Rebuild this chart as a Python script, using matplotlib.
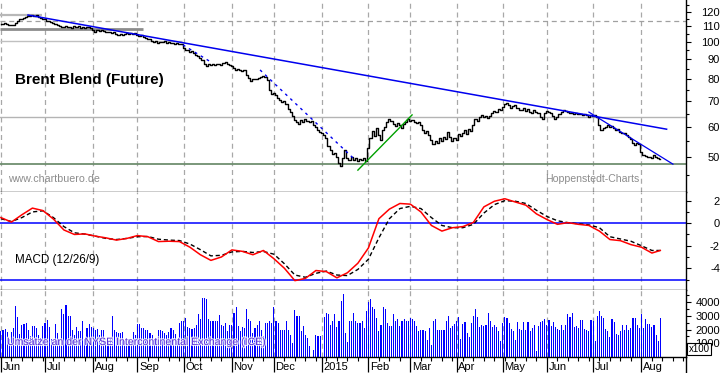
import numpy as np
import pandas as pd
import matplotlib
matplotlib.use('Agg')
import matplotlib.pyplot as plt
import matplotlib.patheffects as pe
from matplotlib.lines import Line2D
from matplotlib.transforms import blended_transform_factory
from matplotlib.ticker import NullFormatter

plt.rcParams['font.family'] = ['Liberation Sans', 'DejaVu Sans']

# trading days on the chart (one bar per business day)
days = pd.bdate_range('2014-06-02', '2015-08-14')

# daily closes (USD)
close = [
    # Jun 2014
    111.4, 111.6, 111.9, 111.4, 110.8, 111.0, 110.8, 112.3, 113.2, 114.6, 115.0,
    115.3, 116.0, 116.7, 117.1, 117.6, 117.1, 117.4, 116.4, 115.5, 115.0,
    # Jul
    114.6, 113.6, 113.2, 112.6, 111.9, 111.4, 110.8, 110.3, 109.6, 109.2, 110.1,
    109.2, 109.6, 108.8, 110.1, 109.4, 109.9, 108.8, 109.6, 109.0, 109.2, 109.6, 109.0,
    # Aug
    107.1, 106.4, 107.1, 106.7, 107.5, 106.9, 106.4, 106.0, 106.2, 105.4, 105.8,
    104.9, 104.5, 105.1, 104.5, 104.9, 105.4, 104.7, 105.4, 104.9, 105.4,
    # Sep
    104.3, 103.7, 104.1, 102.9, 102.4, 102.0, 101.6, 100.4, 99.8, 100.4, 99.6,
    100.2, 99.8, 100.4, 99.6, 100.0, 99.2, 99.6, 98.8, 99.2, 98.6, 99.0,
    # Oct
    96.4, 95.3, 95.0, 94.2, 94.7, 93.3, 92.4, 91.9, 90.8, 89.7, 87.5, 86.5,
    87.5, 87.3, 87.5, 87.0, 87.8, 87.5, 87.3, 88.1, 88.4, 87.5, 87.0,
    # Nov
    86.5, 85.5, 84.5, 85.0, 84.5, 84.0, 84.5, 81.9, 80.5, 79.0, 80.0, 80.2,
    80.0, 80.5, 81.0, 81.4, 81.0, 79.5, 74.9, 73.1,
    # Dec
    73.5, 72.6, 71.4, 70.5, 69.7, 70.1, 68.8, 66.8, 65.6, 64.0, 62.5, 61.8,
    61.0, 62.5, 61.8, 62.9, 62.1, 61.8, 62.1, 60.6, 59.9, 58.8, 58.1,
    # Jan 2015
    57.8, 57.1, 56.1, 53.4, 52.1, 50.9, 51.2, 50.0, 48.2, 47.4, 49.7, 52.1,
    49.7, 49.1, 50.0, 49.1, 49.7, 48.8, 49.4, 49.1, 49.7, 48.8,
    # Feb
    52.8, 56.1, 58.5, 56.8, 59.6, 57.1, 55.4, 58.8, 59.9, 61.8, 62.9, 62.1,
    61.0, 60.3, 61.4, 60.6, 59.6, 61.0, 61.8, 62.9,
    # Mar
    62.1, 62.5, 61.8, 61.4, 61.8, 60.6, 58.8, 57.8, 58.5, 57.1, 55.4, 54.1,
    55.1, 54.4, 56.1, 55.1, 56.5, 55.8, 58.1, 56.5, 55.1, 56.1,
    # Apr
    55.4, 57.4, 56.8, 57.8, 58.8, 57.4, 59.2, 58.5, 60.6, 62.9, 62.1, 63.6,
    64.4, 63.6, 64.0, 63.3, 64.0, 65.2, 66.0, 65.6, 66.8, 66.4,
    # May
    67.6, 68.8, 69.3, 68.4, 67.2, 68.0, 68.4, 67.2, 66.4, 66.4, 67.2, 66.0,
    66.8, 65.6, 65.2, 66.4, 65.6, 65.2, 63.6, 62.9, 65.2,
    # Jun
    66.0, 65.6, 65.2, 64.0, 62.9, 63.6, 64.8, 65.6, 66.4, 66.0, 65.6, 65.2,
    65.2, 64.8, 65.2, 64.8, 64.8, 64.4, 64.8, 64.4, 63.6, 64.4,
    # Jul
    64.0, 64.4, 63.6, 60.6, 58.8, 59.6, 59.9, 60.6, 59.9, 60.3, 59.6, 58.8,
    59.2, 58.1, 57.8, 57.8, 57.1, 56.5, 55.8, 54.4, 53.8, 54.4, 54.1,
    # Aug
    51.5, 50.6, 50.3, 50.0, 50.0, 49.7, 50.6, 50.0, 49.7, 49.4,
]

# daily volume at ICE (x100 contracts)
volume = [
    1900, 2000, 2050, 1850, 1300, 1800, 2100, 3750, 2900, 1700, 2350, 2450, 2500,
    2000, 1500, 2250, 2250, 2100, 1600, 1400, 2250,
    2500, 2700, 2175, 1300, 1100, 2425, 1750, 1300, 3500, 3175, 3825, 3000, 3000,
    2000, 1625, 2175, 1875, 1875, 2600, 1300, 2100, 2400, 2200,
    2100, 2000, 2050, 1600, 2000, 2000, 1200, 1100, 1300, 3000, 2000, 1850, 1750,
    1750, 1850, 1200, 1000, 1300, 1100, 1800, 1600,
    2400, 2400, 2100, 2100, 2000, 2000, 1750, 1600, 1300, 1400, 2000, 2000, 1900,
    1750, 1600, 1850, 2100, 2000, 1650, 1200, 2500, 2600,
    2600, 2850, 2200, 2100, 2050, 2100, 2350, 3150, 2750, 4350, 4300, 4250, 2750,
    2600, 2600, 2600, 2650, 3100, 2350, 2250, 2500, 1875, 2325,
    2375, 3250, 3625, 2250, 1925, 2175, 2125, 3500, 2750, 2625, 1750, 2125, 2375,
    2625, 2000, 1500, 2500, 2500, 2625, 2500,
    3625, 2625, 2500, 2000, 2000, 2000, 2625, 2000, 1625, 1000, 3425, 3000, 3000,
    1875, 2250, 1625, 1375, 800, 0, 500, 1625, 1500, 1500,
    0, 2925, 3250, 3125, 2375, 2625, 3125, 2175, 2625, 4125, 4575, 1750, 1075,
    2625, 2625, 3250, 2625, 2500, 2500, 2625, 2125, 3375,
    4000, 4250, 3625, 3500, 2875, 1875, 2375, 3675, 3500, 2500, 2250, 2250, 3125,
    2625, 2750, 2250, 2625, 2750, 2625, 2625,
    2875, 2750, 2625, 2250, 1875, 2000, 2000, 1875, 1250, 2125, 875, 2625, 2750,
    2000, 2000, 2000, 2000, 2625, 3000, 2125, 2250, 2425,
    2625, 2925, 1325, 2425, 2575, 1750, 1450, 2500, 3000, 3500, 2925, 2175, 2375,
    2250, 2325, 3250, 2625, 2175, 2375, 2200, 1875, 1200,
    2500, 2925, 2875, 2500, 2075, 1925, 1250, 2575, 2075, 2000, 2575, 2000, 2575,
    1925, 2100, 2350, 425, 2250, 2575, 2625, 2800,
    2325, 2675, 2250, 2525, 2175, 2075, 1950, 2325, 2000, 2325, 3125, 2925, 3250,
    2175, 2250, 2125, 2675, 2675, 2075, 2000, 1875, 2675,
    2625, 1175, 3000, 3375, 3000, 2825, 2075, 1875, 1450, 2800, 2575, 1675, 1625,
    1875, 2375, 2000, 2375, 2000, 2125, 2875, 2875, 2325, 2100,
    3125, 2125, 2800, 2450, 2450, 2175, 2375, 1625, 1175, 2825,
]

# MACD (12/26/9) and signal line, read every 5th trading day plus the last day
macd_step = 5
macd = [
    0.5, 0.1, 0.75, 1.34, 1.12, 0.37, -0.6, -1.0, -0.95, -1.15, -1.3, -1.5, -1.35,
    -1.1, -1.2, -1.63, -1.6, -1.63, -2.13, -2.8, -3.3, -3.0, -2.37, -2.5, -2.8,
    -2.42, -3.15, -4.0, -5.1, -4.9, -4.2, -4.3, -4.85, -4.4, -3.55, -2.2, 0.4, 1.25,
    1.75, 1.69, 1.0, -0.2, -0.7, -0.4, -0.3, 0.07, 1.45, 1.95, 2.17, 1.88, 1.6,
    0.83, 0.33, -0.1, 0.05, -0.1, -0.2, -0.7, -1.45, -1.55, -1.9, -2.13, -2.65, -2.42,
]
signal = [
    0.4, 0.15, 0.5, 1.0, 1.1, 0.5, -0.3, -0.85, -0.97, -1.15, -1.35, -1.45, -1.35,
    -1.2, -1.18, -1.42, -1.5, -1.54, -1.85, -2.35, -2.9, -2.85, -2.55, -2.5, -2.6,
    -2.51, -2.75, -3.6, -4.6, -4.8, -4.45, -4.25, -4.6, -4.65, -4.1, -3.2, -1.3, 0.4,
    1.3, 1.5, 1.3, 0.5, -0.2, -0.4, -0.4, -0.1, 0.9, 1.65, 2.0, 1.95, 1.75,
    1.15, 0.6, 0.22, 0.05, -0.05, -0.15, -0.4, -1.2, -1.4, -1.6, -2.0, -2.42, -2.42,
]
macd_levels = [0, -5]

# drawn trend lines: (start day, start price, end day, end price)
long_trend = (12.9, 117.5, 317.0, 59.2)
oct_trend = (86.7, 98.2, 100.0, 88.6)
dec_trend = (123.4, 84.5, 167.7, 49.8)
jan_support = (170.0, 46.3, 195.8, 64.5)
jul_trend = (280.0, 65.6, 320.0, 48.0)

# horizontal marks in the price panel
dashed_level = 113.2
resistance_level = 63.7
support_level = 47.9
short_levels = [117.7, 107.9, 100.7]
short_level_ends = [19.6, 67.7, 86.2]

month_labels = ['Jun', 'Jul', 'Aug', 'Sep', 'Oct', 'Nov', 'Dec', '2015',
                'Feb', 'Mar', 'Apr', 'May', 'Jun', 'Jul', 'Aug']
price_ticks = [50, 60, 70, 80, 90, 100, 110, 120]
price_minor = [45, 55, 65, 75, 85, 95, 105, 115, 125]
macd_ticks = [2, 0, -2, -4]
macd_minor = [1, -1, -3, -5]
vol_ticks = [1000, 2000, 3000, 4000]
vol_minor = [500, 1500, 2500, 3500, 4500]

# --- layout in pixels ---
W, H = 723, 373
AX_RIGHT = 686
fig = plt.figure(figsize=(W / 100, H / 100), dpi=100)


def px_axes(top, bottom):
    return fig.add_axes([0, 1 - bottom / H, AX_RIGHT / W, (bottom - top) / H])


ax_p = px_axes(0, 192)
ax_m = px_axes(192, 290)
ax_v = px_axes(290, 357)

x_left, x_right = -0.43, (AX_RIGHT - 0.9) / 2.1
x = np.arange(len(close))
month_pos = [i for i in range(len(days)) if i == 0 or days[i].month != days[i - 1].month]
grid_kw = dict(color='#a8a8a8', lw=0.9, linestyle=(0, (4, 3)), zorder=0.5)
label_pad = (720 - AX_RIGHT - 5) / 1.389

for ax in (ax_p, ax_m, ax_v):
    ax.set_xlim(x_left, x_right)
    for s in ('left', 'top'):
        ax.spines[s].set_visible(False)
    for s in ('right', 'bottom'):
        ax.spines[s].set_linewidth(1.0)
        ax.spines[s].set_color('black')
    ax.yaxis.tick_right()
    ax.tick_params(axis='y', which='major', length=3.6, width=0.8, pad=label_pad,
                   labelsize=8)
    ax.tick_params(axis='y', which='minor', length=2.4, width=0.8)
    for p in month_pos:
        ax.axvline(p, **grid_kw)
    ax.set_facecolor('white')

ax_p.tick_params(axis='x', which='both', length=0, labelbottom=False)
ax_m.tick_params(axis='x', which='both', length=0, labelbottom=False)

# --- price panel ---
ax_p.set_yscale('log')
ax_p.set_ylim(40.6, 128.6)
ax_p.set_yticks(price_ticks, [str(t) for t in price_ticks])
ax_p.set_yticks(price_minor, minor=True)
ax_p.yaxis.set_minor_formatter(NullFormatter())

ax_p.axhline(dashed_level, color='#a0a0a0', lw=0.9, linestyle=(0, (4, 3)), zorder=1)
ax_p.axhline(resistance_level, color='#b4b4b4', lw=1.0, zorder=1)
ax_p.axhline(support_level, color='#6f8f6f', lw=1.3, zorder=1)
ax_p.hlines(short_levels, x_left, short_level_ends, colors=['#b8b8b8', '#8c8c8c', '#c0c0c0'],
            linewidths=[1.6, 2.0, 1.0], zorder=1)

ax_p.plot(x, close, drawstyle='steps-mid', color='black', lw=1.0, zorder=3)

for (i0, p0, i1, p1), col, ls, lw in [
        (long_trend, '#0000ee', '-', 1.1),
        (oct_trend, '#0000ee', (0, (2, 3)), 1.0),
        (dec_trend, '#0000ee', (0, (2, 3)), 1.0),
        (jan_support, '#00a000', '-', 1.0),
        (jul_trend, '#0000ee', '-', 0.9)]:
    ax_p.plot([i0, i1], [p0, p1], color=col, linestyle=ls, lw=lw, zorder=4)

ax_p.text(0.022, 0.583, 'Brent Blend (Future)', transform=ax_p.transAxes,
          fontsize=11, fontweight='bold', ha='left', va='center')
ax_p.text(0.011, 0.068, 'www.chartbuero.de', transform=ax_p.transAxes,
          fontsize=7.7, color='#8c8c8c', ha='left', va='center')
ax_p.text(545 / AX_RIGHT, 0.068, 'Hoppenstedt-Charts', transform=ax_p.transAxes,
          fontsize=7.6, color='#8c8c8c', ha='left', va='center')

# --- MACD panel ---
mx = np.append(np.arange(0, len(close), macd_step), len(close) - 1)
ax_m.set_ylim(-5.93, 2.77)
ax_m.set_yticks(macd_ticks, [str(t) for t in macd_ticks])
ax_m.set_yticks(macd_minor, minor=True)
for lev in macd_levels:
    ax_m.axhline(lev, color='#0000ff', lw=1.1, zorder=1)
ax_m.plot(mx, signal, color='black', lw=1.0, linestyle=(0, (3, 2)), zorder=3)
ax_m.plot(mx, macd, color='#ff0000', lw=1.1, zorder=4)
ax_m.text(0.022, 0.306, 'MACD (12/26/9)', transform=ax_m.transAxes,
          fontsize=8.4, ha='left', va='center')

# --- volume panel ---
ax_v.set_ylim(0, 4900)
ax_v.set_yticks(vol_ticks, [str(t) for t in vol_ticks])
ax_v.set_yticks(vol_minor, minor=True)
ax_v.yaxis.set_minor_formatter(NullFormatter())
ax_v.bar(np.arange(len(volume)), volume, width=0.48, color='#0000ff', linewidth=0,
         antialiased=False, zorder=2)
ax_v.text(0.0102, 0.224, 'Umsätze an der NYSE Intercontinental Exchange (ICE)',
          transform=ax_v.transAxes, fontsize=7.6, color='#5a2fd8', ha='left',
          va='center', zorder=5,
          path_effects=[pe.withStroke(linewidth=1.6, foreground='white', alpha=0.8)])

# month ticks (long) and weekly ticks (short) on the time axis
ext_days = pd.bdate_range('2014-06-02', '2015-09-04')
mondays = [i for i, d in enumerate(ext_days)
           if d.weekday() == 0 and i not in month_pos and i < x_right]
ax_v.set_xticks(month_pos, [''] * len(month_pos))
ax_v.set_xticks(mondays, minor=True)
ax_v.tick_params(axis='x', which='major', length=10.8, width=0.9, direction='out')
ax_v.tick_params(axis='x', which='minor', length=2.9, width=0.8, direction='out')
trans = blended_transform_factory(ax_v.transData, ax_v.transAxes)
for p, lab in zip(month_pos, month_labels):
    ax_v.text(p + 0.8, -0.15, lab, transform=trans, fontsize=8, ha='left', va='center')

for ax in (ax_p, ax_m, ax_v):
    plt.setp(ax.get_yticklabels(), ha='right')

# right axis line runs down to the bottom edge
fig.add_artist(Line2D([AX_RIGHT / W] * 2, [0, 16 / H], transform=fig.transFigure,
                      color='black', lw=1.0))
fig.text(699 / W, 1 - 349 / H, 'x100', ha='center', va='center', fontsize=7,
         bbox=dict(boxstyle='square,pad=0.15', fc='white', ec='black', lw=0.8))

fig.savefig('out.png', dpi=100)
